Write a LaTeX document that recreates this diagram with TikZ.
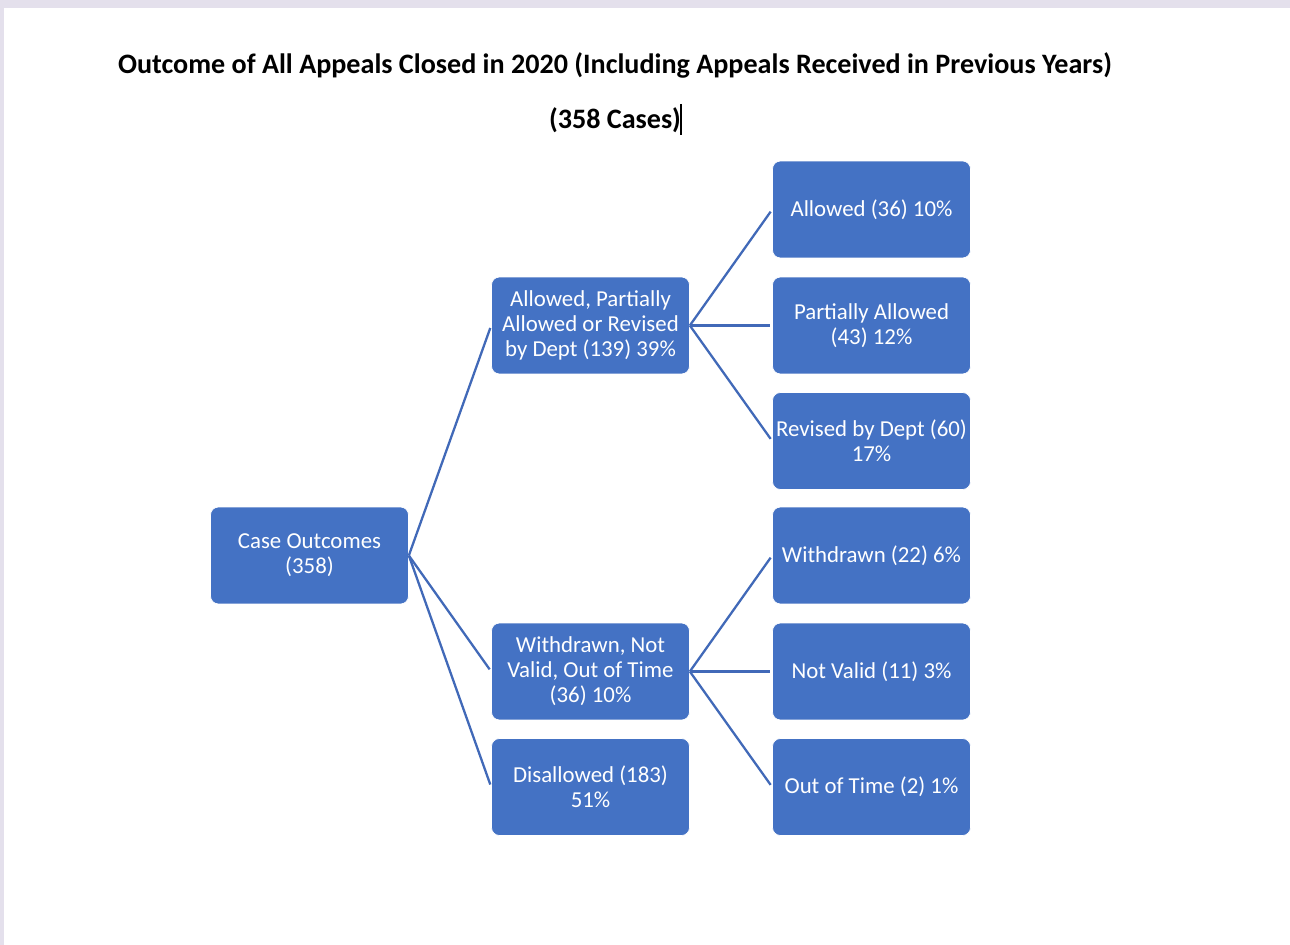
\documentclass[tikz,border=0pt]{standalone}
\usepackage{fontspec}
\setmainfont{Carlito}
\usepackage{tikz}
\usetikzlibrary{positioning}

\definecolor{boxblue}{HTML}{4472C4}
\definecolor{lineblue}{HTML}{4169B8}
\definecolor{frame}{HTML}{E4E0EC}

\begin{document}
\begin{tikzpicture}[x=0.02cm, y=-0.02cm,
    outcome/.style={fill=boxblue, draw=white, line width=0.4pt, rounded corners=4.5pt,
        minimum width=3.96cm, minimum height=1.94cm, align=center, text=white,
        font=\fontsize{13}{14.3}\selectfont, inner sep=1pt},
    link/.style={draw=lineblue, line width=1.3pt, shorten >=1.5pt}]

\useasboundingbox (0,0) rectangle (1290,945);
\fill [frame] (0,0) rectangle (1290,945);
\fill [white] (4,8) rectangle (1290,945);

% title
\node (title) at (615,65) {\fontsize{16}{18}\selectfont\bfseries Outcome of All Appeals Closed in 2020 (Including Appeals Received in Previous Years)};
\node (cases) at (615,120) {\fontsize{16}{18}\selectfont\bfseries (358 Cases)};
\draw [line width=0.6pt] (681,104) -- (681,135);

% boxes
\node [outcome] (co) at (309.5,555.5) {Case Outcomes\\(358)};

\node [outcome] (ap)  at (590.5,325.5) {Allowed, Partially\\Allowed or Revised\\by Dept (139) 39\%};
\node [outcome] (wnv) at (590.5,671.5) {Withdrawn, Not\\Valid, Out of Time\\(36) 10\%};
\node [outcome] (dis) at (590.5,787)   {Disallowed (183)\\51\%};

\node [outcome] (al)  at (871.5,209.5) {Allowed (36) 10\%};
\node [outcome] (pa)  at (871.5,325.5) {Partially Allowed\\(43) 12\%};
\node [outcome] (rev) at (871.5,441)   {Revised by Dept (60)\\17\%};
\node [outcome] (wd)  at (871.5,555.5) {Withdrawn (22) 6\%};
\node [outcome] (nv)  at (871.5,671.5) {Not Valid (11) 3\%};
\node [outcome] (oot) at (871.5,787)   {Out of Time (2) 1\%};

% connectors
\foreach \i in {ap,wnv,dis}
    \draw [link] (co.east) -- (\i.west);

\foreach \i in {al,pa,rev}
    \draw [link] (ap.east) -- (\i.west);

\foreach \i in {wd,nv,oot}
    \draw [link] (wnv.east) -- (\i.west);

\end{tikzpicture}
\end{document}
